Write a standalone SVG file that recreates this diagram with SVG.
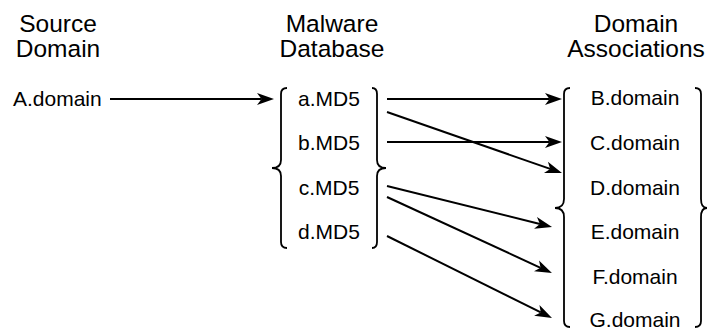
<svg xmlns="http://www.w3.org/2000/svg" width="708" height="330" viewBox="0 0 708 330">
  <style>
    text { font-family: "Liberation Sans", Arial, Helvetica, sans-serif; fill: #000; }
    .head { font-size: 24.5px; text-anchor: middle; }
    .lbl { font-size: 21px; text-anchor: middle; }
    .brace { fill: none; stroke: #000; stroke-width: 1.8; }
    .edge { fill: none; stroke: #000; stroke-width: 2; marker-end: url(#arrow); }
  </style>
  <defs>
    <marker id="arrow" markerUnits="userSpaceOnUse" markerWidth="17" markerHeight="12" refX="4.5" refY="6" orient="auto" overflow="visible">
      <path d="M0,0 L17,6 L0,12 L4.5,6 Z" fill="#000"/>
    </marker>
  </defs>
  <rect width="708" height="330" fill="#fff"/>

  <!-- column headings -->
  <g id="headings">
    <text class="head" x="58" y="32">Source</text>
    <text class="head" x="58" y="57">Domain</text>
    <text class="head" x="332" y="32">Malware</text>
    <text class="head" x="332" y="57">Database</text>
    <text class="head" x="636" y="32">Domain</text>
    <text class="head" x="636" y="57">Associations</text>
  </g>

  <!-- source domain -->
  <g id="source">
    <text class="lbl" x="13" y="106" style="text-anchor:start">A.domain</text>
  </g>

  <!-- malware database group -->
  <g id="malware-db">
    <path class="brace" d="M287,88 Q281,88 281,94 L281,160 Q281,168 272,168 Q281,168 281,176 L281,242 Q281,248 287,248"/>
    <path class="brace" d="M372,88 Q377,88 377,94 L377,160 Q377,168 386,168 Q377,168 377,176 L377,242 Q377,248 372,248"/>
    <g id="md5-a"><text class="lbl" x="329" y="106">a.MD5</text></g>
    <g id="md5-b"><text class="lbl" x="329" y="150">b.MD5</text></g>
    <g id="md5-c"><text class="lbl" x="329" y="194.5">c.MD5</text></g>
    <g id="md5-d"><text class="lbl" x="329" y="239">d.MD5</text></g>
  </g>

  <!-- domain associations group -->
  <g id="associations">
    <path class="brace" d="M570,88 Q564,88 564,94 L564,199 Q564,208 555,208 Q564,208 564,217 L564,321 Q564,327 570,327"/>
    <path class="brace" d="M695,88 Q701,88 701,94 L701,199 Q701,208 707,208 Q701,208 701,217 L701,321 Q701,327 695,327"/>
    <g id="dom-b"><text class="lbl" x="635" y="105">B.domain</text></g>
    <g id="dom-c"><text class="lbl" x="635" y="150">C.domain</text></g>
    <g id="dom-d"><text class="lbl" x="635" y="194.5">D.domain</text></g>
    <g id="dom-e"><text class="lbl" x="635" y="239">E.domain</text></g>
    <g id="dom-f"><text class="lbl" x="635" y="283.5">F.domain</text></g>
    <g id="dom-g"><text class="lbl" x="635" y="327">G.domain</text></g>
  </g>

  <!-- connectors (each ends at the arrowhead notch) -->
  <g id="connectors">
    <path class="edge" d="M110,99 L261.5,99"/>
    <path class="edge" d="M387,99 L549.5,99"/>
    <path class="edge" d="M387,112 L550.2,168.9"/>
    <path class="edge" d="M387,142 L549.5,142"/>
    <path class="edge" d="M387,186 L539.9,224"/>
    <path class="edge" d="M387,197 L540.6,267.8"/>
    <path class="edge" d="M387,236 L540.8,312.4"/>
  </g>
</svg>
